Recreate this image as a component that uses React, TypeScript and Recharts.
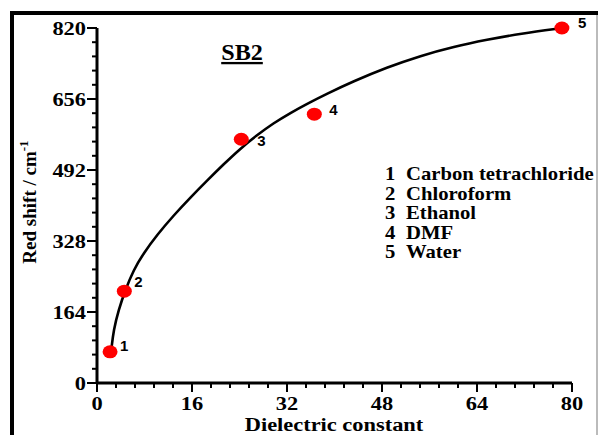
import { ComposedChart, Line, Scatter, XAxis, YAxis } from 'recharts';

// solvent points: dielectric constant vs red shift
const solvents = ['Carbon tetrachloride', 'Chloroform', 'Ethanol', 'DMF', 'Water'];
const dielectric = [2.2, 4.6, 24.3, 36.6, 78.3];
const redShift = [72, 212, 563, 621, 820];

// fitted trend curve, sampled along its length
const fitX = [2.41, 2.8, 3.64, 4.77, 6.16, 7.85, 10.1, 12.9, 15.7, 18.5, 21.3, 24.1, 26.9, 29.7, 32.6, 35.4, 38.7, 43.2, 48.8, 54.5, 60.1, 65.7, 71.3, 78.3];
const fitY = [77, 123, 169, 215, 261, 300, 342, 387, 428, 467, 505, 541, 572, 600, 624, 645, 668, 697, 729, 756, 777, 793, 807, 820];

const xMajor = [0, 16, 32, 48, 64, 80];
const yMajor = [0, 164, 328, 492, 656, 820];

// where each point number sits relative to its dot
const labelOffsets = [
  [10, -1],
  [10, -4],
  [16, 7],
  [15, 1],
  [16, 0],
];

const withMinor = (major: number[]) => {
  const out: number[] = [];
  for (let i = 0; i < major.length - 1; i++) {
    const step = (major[i + 1] - major[i]) / 5;
    for (let k = 0; k < 5; k++) out.push(major[i] + step * k);
  }
  out.push(major[major.length - 1]);
  return out;
};

const xTicks = withMinor(xMajor);
const yTicks = withMinor(yMajor);

const points = dielectric.map((x, i) => ({ x, y: redShift[i], id: i + 1 }));
const fit = fitX.map((x, i) => ({ x, y: fitY[i] }));

const SERIF = '"Liberation Serif", "Times New Roman", serif';
const SANS = '"Liberation Sans", Arial, sans-serif';

const isMajor = (v: number, major: number[]) => major.some((m) => Math.abs(m - v) < 1e-6);

// bold serif text, a little wider than the stock face
const WideText = ({ x, y, anchor = 'start', size = 19, sx = 1.18, children }: any) => (
  <text
    transform={`translate(${x},${y}) scale(${sx},1)`}
    textAnchor={anchor}
    fontFamily={SERIF}
    fontWeight="bold"
    fontSize={size}
    fill="#000"
  >
    {children}
  </text>
);

const YTick = (props: any) => {
  const { x, y, payload } = props;
  const major = isMajor(payload.value, yMajor);
  return (
    <g>
      <line x1={x - (major ? 10 : 5)} x2={x} y1={y} y2={y} stroke="#000" strokeWidth={2} />
      {major && (
        <WideText x={x - 11} y={y + 7} anchor="end">
          {payload.value}
        </WideText>
      )}
    </g>
  );
};

const XTick = (props: any) => {
  const { x, y, payload } = props;
  const major = isMajor(payload.value, xMajor);
  return (
    <g>
      <line x1={x} x2={x} y1={y} y2={y + (major ? 9 : 5)} stroke="#000" strokeWidth={2} />
      {major && (
        <WideText x={x} y={y + 27} anchor="middle">
          {payload.value}
        </WideText>
      )}
    </g>
  );
};

const Dot = (props: any) => {
  const { cx, cy, payload } = props;
  const [dx, dy] = labelOffsets[payload.id - 1];
  return (
    <g>
      <ellipse cx={cx} cy={cy} rx={7.5} ry={6.5} fill="#ff0000" />
      <text x={cx + dx} y={cy + dy} fontFamily={SANS} fontWeight="bold" fontSize={15} fill="#000">
        {payload.id}
      </text>
    </g>
  );
};

export default function App() {
  return (
    <div style={{ position: 'absolute', left: 0, top: 0, width: 598, height: 435, background: '#fff', overflow: 'hidden' }}>
      <ComposedChart width={598} height={435} margin={{ top: 28, right: 26, bottom: 22, left: 37 }}>
        <XAxis
          type="number"
          dataKey="x"
          domain={[0, 80]}
          ticks={xTicks}
          interval={0}
          height={30}
          tickSize={0}
          tickMargin={0}
          tickLine={false}
          tick={<XTick />}
          axisLine={{ stroke: '#000', strokeWidth: 3 }}
        />
        <YAxis
          type="number"
          dataKey="y"
          domain={[0, 820]}
          ticks={yTicks}
          interval={0}
          width={60}
          tickSize={0}
          tickMargin={0}
          tickLine={false}
          tick={<YTick />}
          axisLine={{ stroke: '#000', strokeWidth: 3 }}
        />
        <Line
          data={fit}
          dataKey="y"
          type="basis"
          stroke="#000"
          strokeWidth={2.6}
          dot={false}
          activeDot={false}
          isAnimationActive={false}
        />
        <Scatter data={points} dataKey="y" shape={<Dot />} isAnimationActive={false} />
      </ComposedChart>

      <svg width={598} height={435} style={{ position: 'absolute', left: 0, top: 0, pointerEvents: 'none' }}>
        {/* outer frame */}
        <line x1={12} x2={12} y1={11} y2={435} stroke="#000" strokeWidth={4} />
        <line x1={10} x2={598} y1={13} y2={13} stroke="#000" strokeWidth={4} />
        <line x1={597} x2={597} y1={15} y2={435} stroke="#bbb" strokeWidth={2} />

        <g textDecoration="underline">
          <WideText x={242} y={60} anchor="middle" size={23} sx={1.05}>
            SB2
          </WideText>
        </g>

        <text
          transform="translate(36, 202) rotate(-90)"
          textAnchor="middle"
          fontFamily={SERIF}
          fontWeight="bold"
          fontSize={19}
          fill="#000"
        >
          Red shift / cm<tspan dy={-8} fontSize={13}>-1</tspan>
        </text>

        <WideText x={334} y={431} anchor="middle">
          Dielectric constant
        </WideText>

        {solvents.map((name, i) => (
          <g key={name}>
            <WideText x={385} y={180 + i * 19.5} size={18} sx={1.15}>
              {i + 1}
            </WideText>
            <WideText x={406} y={180 + i * 19.5} size={18} sx={1.15}>
              {name}
            </WideText>
          </g>
        ))}
      </svg>
    </div>
  );
}
